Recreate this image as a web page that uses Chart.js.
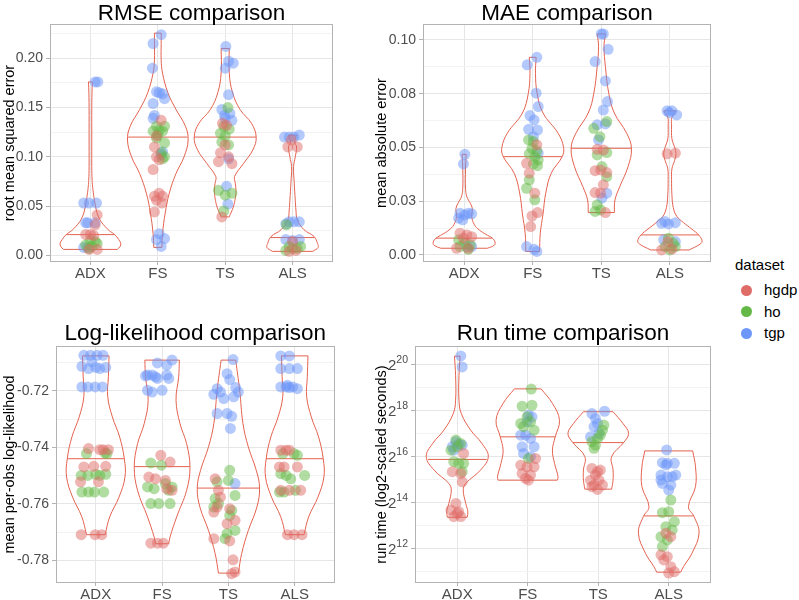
<!DOCTYPE html>
<html>
<head>
<meta charset="utf-8">
<script src="https://cdn.jsdelivr.net/npm/chart.js@4.4.0/dist/chart.umd.min.js"></script>
<style>
  body { margin: 0; background: #fff; font-family: 'Liberation Sans', Arial, sans-serif; }
  #wrap { position: relative; width: 799px; height: 600px; overflow: hidden; }
  #wrap canvas { position: absolute; }
  #legend { position: absolute; left: 0; top: 0; }
  .ltitle, .litem { position: absolute; font-size: 15px; line-height: 18px; color: #000; white-space: nowrap; }
  .dot { position: absolute; width: 11px; height: 11px; border-radius: 50%; }
</style>
</head>
<body>
<div id="wrap">
  <canvas id="rmse" width="340" height="300" style="left:0;top:0"></canvas>
  <canvas id="mae" width="380" height="300" style="left:340px;top:0"></canvas>
  <canvas id="ll" width="340" height="300" style="left:0;top:300px"></canvas>
  <canvas id="rt" width="380" height="300" style="left:340px;top:300px"></canvas>
  <div id="legend"></div>
</div>
<script>
const categories = ['ADX', 'FS', 'TS', 'ALS'];
const datasetNames = ['hgdp', 'ho', 'tgp'];
const datasetColors = ['rgb(224,108,104)', 'rgb(100,185,70)', 'rgb(108,150,250)'];
const pointColors = ['rgba(224,108,104,0.5)', 'rgba(100,185,70,0.5)', 'rgba(108,150,250,0.5)'];
const violinColor = '#E4624F';

// points: [category index, jitter, value]
// ---- RMSE ----
const rmseHgdp = [
  [0,0.10,0.041],[0,0.07,0.031],[0,0.00,0.021],[0,-0.07,0.021],[0,0.05,0.020],[0,-0.02,0.006],[0,0.10,0.006],
  [1,0.05,0.137],[1,-0.02,0.121],[1,-0.05,0.110],[1,-0.02,0.100],[1,0.02,0.097],[1,-0.07,0.087],[1,0.02,0.063],[1,-0.05,0.060],[1,0.07,0.060],[1,-0.02,0.056],[1,0.06,0.053],[1,-0.05,0.044],
  [2,-0.04,0.134],[2,0.02,0.132],[2,0.00,0.112],[2,-0.07,0.104],[2,0.05,0.100],[2,-0.10,0.095],[2,0.10,0.093],[2,-0.05,0.039],
  [3,-0.02,0.117],[3,-0.07,0.110],[3,0.07,0.110],[3,0.00,0.014],[3,-0.05,0.004],[3,0.05,0.005]
];
const rmseHo = [
  [0,0.00,0.015],[0,0.07,0.014],[0,-0.07,0.0105],[0,0.02,0.009],[0,-0.02,0.007],[0,0.10,0.012],
  [1,-0.02,0.131],[1,0.10,0.131],[1,0.02,0.127],[1,-0.07,0.126],[1,0.07,0.126],[1,0.00,0.122],[1,-0.02,0.119],[1,0.10,0.114],[1,0.05,0.104],[1,0.10,0.100],[1,0.07,0.098],
  [2,0.04,0.150],[2,-0.02,0.131],[2,0.06,0.128],[2,-0.07,0.124],[2,0.00,0.121],[2,-0.05,0.115],[2,0.05,0.112],[2,-0.10,0.066],[2,0.10,0.063],[2,0.00,0.061],[2,-0.02,0.045],
  [3,-0.09,0.031],[3,-0.05,0.009],[3,0.00,0.007],[3,0.07,0.007],[3,-0.10,0.005],[3,0.12,0.009]
];
const rmseTgp = [
  [0,0.07,0.176],[0,0.11,0.176],[0,-0.10,0.053],[0,-0.02,0.053],[0,0.09,0.053],[0,-0.07,0.033],[0,-0.04,0.033],[0,0.07,0.033],[0,-0.10,0.008],[0,-0.04,0.008],
  [1,-0.07,0.215],[1,0.05,0.224],[1,-0.08,0.190],[1,-0.02,0.166],[1,0.02,0.165],[1,0.07,0.164],[1,0.10,0.159],[1,-0.07,0.154],[1,-0.05,0.142],[1,-0.07,0.139],[1,0.07,0.105],[1,0.05,0.102],[1,0.02,0.022],[1,-0.02,0.016],[1,0.10,0.017],[1,0.05,0.009],
  [2,0.01,0.212],[2,0.05,0.197],[2,0.12,0.195],[2,0.00,0.190],[2,0.05,0.163],[2,-0.05,0.148],[2,-0.01,0.142],[2,0.07,0.144],[2,0.00,0.139],[2,0.10,0.137],[2,0.05,0.098],[2,0.02,0.070],[2,0.04,0.052],
  [3,-0.12,0.120],[3,-0.05,0.120],[3,0.02,0.120],[3,0.10,0.122],[3,-0.05,0.034],[3,0.02,0.034],[3,0.10,0.034],[3,-0.10,0.032],[3,-0.10,0.016],[3,0.00,0.015],[3,0.10,0.016]
];
// violin outlines: [value, half width in category units], bottom to top
const rmseViolins = [
  [[0.006,0.40],[0.009,0.44],[0.012,0.45],[0.016,0.42],[0.021,0.36],[0.025,0.28],[0.029,0.22],[0.034,0.16],[0.039,0.12],[0.045,0.09],[0.052,0.07],[0.060,0.05],[0.068,0.035],[0.076,0.025],[0.090,0.02],[0.120,0.02],[0.150,0.02],[0.170,0.025],[0.176,0.03]],
  [[0.008,0.06],[0.022,0.07],[0.043,0.11],[0.063,0.17],[0.083,0.27],[0.100,0.39],[0.117,0.45],[0.131,0.41],[0.148,0.27],[0.165,0.15],[0.185,0.07],[0.198,0.05],[0.215,0.05],[0.2255,0.05]],
  [[0.039,0.06],[0.049,0.12],[0.058,0.15],[0.066,0.16],[0.073,0.15],[0.080,0.14],[0.093,0.27],[0.107,0.41],[0.120,0.46],[0.134,0.39],[0.148,0.22],[0.165,0.11],[0.185,0.06],[0.210,0.06]],
  [[0.004,0.30],[0.008,0.38],[0.012,0.37],[0.019,0.32],[0.026,0.17],[0.036,0.07],[0.046,0.05],[0.056,0.04],[0.073,0.025],[0.090,0.015],[0.100,0.04],[0.110,0.06],[0.115,0.03],[0.122,0.06]]
];
const rmseMedians = [0.021, 0.120, 0.120, 0.018];
const rmseTicks = [0, 0.05, 0.10, 0.15, 0.20];
const rmseTickLabels = ['0.00', '0.05', '0.10', '0.15', '0.20'];

// ---- MAE ----
const maeHgdp = [
  [0,-0.06,0.0101],[0,0.04,0.0093],[0,0.11,0.0085],[0,-0.01,0.0078],[0,-0.11,0.0031],[0,0.06,0.0031],
  [1,0.06,0.0512],[1,-0.09,0.0426],[1,-0.05,0.0380],[1,0.03,0.0287],[1,0.07,0.0197],[1,-0.01,0.0181],[1,-0.03,0.0132],
  [2,-0.06,0.0491],[2,0.03,0.0488],[2,-0.01,0.0395],[2,-0.09,0.0392],[2,0.08,0.0383],[2,0.03,0.0326],[2,-0.09,0.0290],[2,-0.01,0.0287],[2,0.06,0.0197],
  [3,-0.04,0.0470],[3,0.08,0.0473],[3,-0.12,0.0023],[3,0.03,0.0027],[3,-0.03,0.0062]
];
const maeHo = [
  [0,-0.08,0.0070],[0,0.01,0.0057],[0,0.09,0.0047],[0,-0.06,0.0039],[0,0.06,0.0026],
  [1,-0.06,0.0535],[1,0.01,0.0527],[1,-0.01,0.0496],[1,0.06,0.0485],[1,-0.05,0.0470],[1,0.03,0.0457],[1,0.08,0.0442],[1,0.01,0.0423],[1,0.07,0.0415],[1,-0.05,0.0349],[1,-0.09,0.0310],[1,0.03,0.0256],
  [2,0.08,0.0620],[2,-0.11,0.0589],[2,-0.02,0.0550],[2,0.08,0.0476],[2,-0.06,0.0465],[2,0.01,0.0411],[2,0.08,0.0364],[2,-0.06,0.0233],[2,-0.09,0.0202],[2,-0.01,0.0209],
  [3,-0.02,0.0078],[3,0.05,0.0054],[3,0.08,0.0039],[3,-0.07,0.0039],[3,0.00,0.0023]
];
const maeTgp = [
  [0,0.01,0.0468],[0,-0.01,0.0423],[0,-0.06,0.0194],[0,0.06,0.0194],[0,0.11,0.0191],[0,0.01,0.0186],[0,-0.08,0.0171],[0,-0.02,0.0163],[0,0.04,0.0039],[0,0.11,0.0039],
  [1,0.06,0.0919],[1,-0.08,0.0884],[1,0.05,0.0752],[1,0.08,0.0690],[1,-0.04,0.0648],[1,0.02,0.0628],[1,-0.06,0.0584],[1,0.07,0.0581],[1,0.01,0.0550],[1,0.08,0.0473],[1,-0.09,0.0039],[1,0.02,0.0026],[1,0.06,0.0016],
  [2,0.00,0.1028],[2,0.03,0.1028],[2,0.10,0.0956],[2,-0.09,0.0899],[2,0.06,0.0809],[2,0.09,0.0713],[2,0.03,0.0674],[2,-0.06,0.0605],[2,0.06,0.0609],[2,-0.04,0.0535],[2,0.08,0.0287],[2,0.01,0.0264],
  [3,-0.04,0.0670],[3,0.03,0.0670],[3,0.10,0.0651],[3,-0.01,0.0662],[3,-0.12,0.0147],[3,-0.02,0.0144],[3,0.08,0.0150],[3,-0.07,0.0155],[3,-0.09,0.0070],[3,0.08,0.0062]
];
const maeViolins = [
  [[0.0031,0.34],[0.0045,0.44],[0.006,0.45],[0.0078,0.41],[0.0095,0.32],[0.0116,0.22],[0.014,0.15],[0.018,0.11],[0.0215,0.12],[0.024,0.09],[0.027,0.04],[0.031,0.02],[0.040,0.02],[0.0468,0.03]],
  [[0.0016,0.10],[0.010,0.11],[0.019,0.15],[0.0287,0.19],[0.038,0.27],[0.0457,0.43],[0.050,0.45],[0.0566,0.37],[0.066,0.15],[0.075,0.065],[0.0845,0.04],[0.0919,0.05]],
  [[0.0197,0.19],[0.0256,0.20],[0.0318,0.27],[0.041,0.39],[0.0496,0.44],[0.0566,0.37],[0.066,0.19],[0.075,0.11],[0.0876,0.06],[0.097,0.04],[0.1028,0.06]],
  [[0.0023,0.28],[0.005,0.44],[0.0065,0.47],[0.0093,0.42],[0.012,0.32],[0.015,0.20],[0.018,0.10],[0.022,0.05],[0.028,0.03],[0.035,0.025],[0.040,0.03],[0.044,0.07],[0.047,0.09],[0.050,0.07],[0.054,0.03],[0.060,0.025],[0.064,0.03],[0.067,0.09]]
];
const maeMedians = [0.0078, 0.0457, 0.0496, 0.0093];
const maeTicks = [0, 0.025, 0.05, 0.075, 0.10];
const maeTickLabels = ['0.00', '0.03', '0.05', '0.08', '0.10'];

// ---- Log-likelihood ----
const llHgdp = [
  [0,-0.11,-0.7404],[0,0.06,-0.7408],[0,0.11,-0.7408],[0,0.19,-0.7408],[0,-0.18,-0.7469],[0,-0.03,-0.7467],[0,0.15,-0.7467],[0,-0.23,-0.7522],[0,0.04,-0.7522],[0,-0.22,-0.7709],[0,-0.01,-0.7709],[0,0.09,-0.7709],
  [1,-0.02,-0.7428],[1,0.12,-0.7452],[1,-0.20,-0.7505],[1,-0.10,-0.7511],[1,0.05,-0.7517],[1,0.15,-0.7552],[1,0.07,-0.7546],[1,-0.17,-0.7739],[1,-0.07,-0.7739],[1,0.02,-0.7739],
  [2,-0.20,-0.7511],[2,-0.15,-0.7552],[2,-0.12,-0.7576],[2,-0.17,-0.7611],[2,-0.22,-0.7629],[2,0.02,-0.7617],[2,-0.02,-0.7670],[2,0.10,-0.7658],[2,-0.22,-0.7723],[2,0.02,-0.7731],[2,0.07,-0.7798],[2,0.10,-0.7841],[2,0.05,-0.7847],
  [3,-0.21,-0.7410],[3,-0.13,-0.7410],[3,-0.08,-0.7410],[3,-0.23,-0.7469],[3,-0.16,-0.7469],[3,0.04,-0.7469],[3,-0.21,-0.7552],[3,-0.08,-0.7552],[3,0.09,-0.7552],[3,-0.11,-0.7709],[3,-0.01,-0.7709],[3,0.11,-0.7709]
];
const llHo = [
  [0,-0.14,-0.7422],[0,0.14,-0.7420],[0,0.17,-0.7422],[0,-0.22,-0.7499],[0,-0.12,-0.7499],[0,0.00,-0.7495],[0,0.06,-0.7499],[0,0.15,-0.7495],[0,-0.21,-0.7558],[0,-0.11,-0.7558],[0,-0.02,-0.7558],[0,0.12,-0.7558],
  [1,-0.17,-0.7455],[1,-0.01,-0.7463],[1,-0.22,-0.7540],[1,-0.12,-0.7546],[1,0.05,-0.7528],[1,0.15,-0.7540],[1,-0.17,-0.7599],[1,-0.05,-0.7599],[1,0.12,-0.7599],[1,0.10,-0.7552],
  [2,0.02,-0.7481],[2,-0.17,-0.7522],[2,0.00,-0.7517],[2,-0.20,-0.7581],[2,-0.15,-0.7599],[2,-0.22,-0.7611],[2,0.10,-0.7570],[2,0.05,-0.7623],[2,0.02,-0.7641],[2,-0.02,-0.7705],[2,-0.05,-0.7723],[2,0.10,-0.7694],
  [3,-0.18,-0.7422],[3,-0.01,-0.7422],[3,0.04,-0.7428],[3,-0.21,-0.7493],[3,-0.13,-0.7499],[3,0.15,-0.7499],[3,-0.23,-0.7558],[3,-0.16,-0.7558],[3,0.01,-0.7552],[3,-0.06,-0.7511]
];
const llTgp = [
  [0,-0.18,-0.7074],[0,-0.08,-0.7074],[0,0.02,-0.7074],[0,0.11,-0.7074],[0,-0.21,-0.7113],[0,-0.11,-0.7121],[0,0.00,-0.7117],[0,0.06,-0.7121],[0,0.15,-0.7117],[0,-0.06,-0.7097],[0,-0.21,-0.7186],[0,-0.12,-0.7186],[0,-0.01,-0.7186],[0,0.10,-0.7186],
  [1,-0.07,-0.7101],[1,0.15,-0.7091],[1,0.07,-0.7109],[1,-0.22,-0.7144],[1,-0.15,-0.7144],[1,0.07,-0.7144],[1,0.10,-0.7156],[1,-0.10,-0.7150],[1,-0.25,-0.7147],[1,-0.22,-0.7198],[1,-0.15,-0.7204],[1,0.00,-0.7198],[1,-0.07,-0.7156],
  [2,0.07,-0.7089],[2,-0.02,-0.7139],[2,0.02,-0.7160],[2,-0.17,-0.7192],[2,-0.12,-0.7204],[2,-0.22,-0.7212],[2,-0.07,-0.7227],[2,0.08,-0.7221],[2,0.11,-0.7188],[2,0.15,-0.7204],[2,-0.17,-0.7280],[2,-0.02,-0.7280],[2,0.05,-0.7290],[2,0.03,-0.7333],[2,0.10,-0.7528],
  [3,-0.21,-0.7076],[3,-0.08,-0.7076],[3,-0.21,-0.7121],[3,-0.08,-0.7121],[3,0.04,-0.7121],[3,-0.21,-0.7186],[3,-0.13,-0.7186],[3,-0.08,-0.7188],[3,-0.03,-0.7186],[3,0.04,-0.7192],[3,-0.11,-0.7180]
];
const llViolins = [
  [[-0.7709,0.14],[-0.7646,0.21],[-0.7576,0.35],[-0.7505,0.44],[-0.744,0.43],[-0.7363,0.36],[-0.7292,0.25],[-0.722,0.18],[-0.715,0.19],[-0.7076,0.20]],
  [[-0.7741,0.10],[-0.7717,0.12],[-0.7646,0.22],[-0.7552,0.37],[-0.747,0.42],[-0.7387,0.37],[-0.7316,0.27],[-0.7233,0.21],[-0.715,0.25],[-0.7091,0.26]],
  [[-0.7845,0.15],[-0.7776,0.20],[-0.7694,0.30],[-0.7611,0.43],[-0.7544,0.47],[-0.7481,0.42],[-0.7398,0.30],[-0.7316,0.22],[-0.7198,0.17],[-0.7091,0.11]],
  [[-0.7709,0.14],[-0.7646,0.21],[-0.7576,0.35],[-0.7505,0.44],[-0.744,0.43],[-0.7363,0.36],[-0.7292,0.25],[-0.722,0.18],[-0.715,0.19],[-0.7076,0.20]]
];
const llMedians = [-0.744, -0.7468, -0.7544, -0.744];
const llTicks = [-0.78, -0.76, -0.74, -0.72];
const llTickLabels = ['-0.78', '-0.76', '-0.74', '-0.72'];

// ---- Run time (log2 seconds) ----
const rtHgdp = [
  [0,0.09,16.13],[0,-0.07,15.34],[0,0.05,15.26],[0,0.07,14.90],[0,-0.02,13.96],[0,-0.09,13.68],[0,0.02,13.60],[0,-0.05,13.39],[0,0.05,13.39],[0,0.00,13.53],
  [1,-0.10,15.62],[1,-0.01,15.55],[1,0.09,15.55],[1,-0.08,15.26],[1,0.04,15.19],[1,-0.03,15.05],[1,0.01,14.97],[1,0.11,15.91],
  [2,-0.09,15.48],[2,-0.01,15.34],[2,0.03,15.41],[2,-0.04,15.19],[2,-0.11,14.97],[2,0.01,14.97],[2,-0.06,14.76],[2,0.06,14.76],[2,-0.01,14.57],[2,-0.09,14.69],
  [3,-0.04,12.67],[3,0.03,12.52],[3,-0.11,11.73],[3,-0.02,11.65],[3,-0.07,11.51],[3,0.03,11.22],[3,0.08,11.00],[3,0.00,10.94]
];
const rtHo = [
  [0,-0.02,16.71],[0,0.05,16.56],[0,-0.09,16.27],[0,0.00,16.42],[0,-0.05,15.77],[0,0.02,15.70],[0,0.09,15.70],[0,0.07,15.34],
  [1,0.05,18.92],[1,-0.08,18.18],[1,0.06,18.22],[1,-0.01,17.72],[1,-0.10,17.43],[1,-0.06,17.29],[1,0.04,17.50],[1,0.09,17.14],[1,0.01,15.91],
  [2,0.08,17.36],[2,0.06,17.14],[2,0.03,16.92],[2,-0.01,16.78],[2,-0.09,16.64],[2,-0.04,16.49],[2,-0.06,16.35],
  [3,0.03,14.11],[3,-0.09,13.56],[3,0.00,13.60],[3,0.08,13.17],[3,-0.04,12.95],[3,0.05,12.81],[3,-0.11,12.52],[3,-0.02,12.38],[3,-0.09,12.09]
];
const rtTgp = [
  [0,0.05,20.36],[0,0.07,19.88],[0,-0.05,16.27],[0,0.02,16.53],[0,0.07,16.49],[0,-0.02,16.64],[0,-0.07,16.42],
  [1,0.01,17.79],[1,0.06,17.72],[1,-0.01,17.50],[1,-0.03,16.92],[1,-0.10,16.92],[1,0.04,16.78],[1,-0.08,16.42],[1,0.09,16.42],[1,-0.06,16.13],[1,0.04,15.99],
  [2,-0.09,17.86],[2,0.09,17.96],[2,-0.04,17.65],[2,-0.01,17.43],[2,-0.06,17.29],[2,0.01,17.00],[2,-0.11,16.85],
  [3,-0.03,16.28],[3,-0.09,15.73],[3,-0.02,15.70],[3,0.08,15.70],[3,-0.04,15.63],[3,-0.11,15.19],[3,-0.02,15.12],[3,0.05,15.12],[3,0.10,15.19],[3,-0.09,14.83],[3,0.03,14.76],[3,-0.11,14.98],[3,0.00,14.54]
];
const rtViolins = [
  [[13.36,0.14],[13.60,0.15],[13.96,0.12],[14.54,0.085],[14.83,0.12],[15.41,0.33],[15.99,0.44],[16.56,0.35],[17.14,0.19],[17.86,0.057],[18.44,0.024],[19.5,0.024],[20.35,0.04]],
  [[14.97,0.42],[15.12,0.43],[15.70,0.38],[16.27,0.35],[16.85,0.39],[17.57,0.45],[18.30,0.35],[18.93,0.19]],
  [[14.58,0.19],[14.97,0.21],[15.41,0.21],[15.99,0.19],[16.60,0.36],[17.00,0.43],[17.43,0.35],[17.94,0.21]],
  [[10.98,0.17],[11.22,0.21],[11.80,0.33],[12.67,0.43],[13.39,0.36],[13.82,0.28],[14.69,0.38],[15.55,0.38],[16.24,0.34]]
];
const rtMedians = [15.87, 16.85, 16.60, 13.42];
const rtTicks = [12, 14, 16, 18, 20];
// labels are 2 raised to the tick value
const rtTickBase = '2';
const rtTickExponents = ['12', '14', '16', '18', '20'];

const FONT = "'Liberation Sans', Arial, sans-serif";
Chart.defaults.font.family = FONT;

// panel border + title
const panelFrame = {
  id: 'panelFrame',
  afterDraw(chart, args, opts) {
    const { ctx, chartArea: a } = chart;
    ctx.save();
    ctx.strokeStyle = '#B3B3B3';
    ctx.lineWidth = 1;
    ctx.strokeRect(Math.round(a.left) + 0.5, Math.round(a.top) + 0.5,
      Math.round(a.right - a.left) - 1, Math.round(a.bottom - a.top) - 1);
    ctx.fillStyle = '#000';
    ctx.font = '22.5px ' + FONT;
    ctx.textAlign = 'center';
    ctx.textBaseline = 'alphabetic';
    ctx.fillText(opts.text, (a.left + a.right) / 2, opts.baseline);
    ctx.restore();
  }
};

// y tick labels written as a power (base with raised exponent)
const powerLabels = {
  id: 'powerLabels',
  afterDraw(chart, args, opts) {
    if (!opts.exponents) return;
    const { ctx, chartArea: a } = chart;
    const y = chart.scales.y;
    ctx.save();
    ctx.fillStyle = '#4D4D4D';
    ctx.textBaseline = 'alphabetic';
    ctx.textAlign = 'left';
    opts.ticks.forEach((t, i) => {
      const py = y.getPixelForValue(t);
      ctx.font = '10.5px ' + FONT;
      const ew = ctx.measureText(opts.exponents[i]).width;
      ctx.font = '15px ' + FONT;
      const bw = ctx.measureText(opts.base).width;
      const right = a.left - 7;
      ctx.fillText(opts.base, right - ew - bw, py + 5.5);
      ctx.font = '10.5px ' + FONT;
      ctx.fillText(opts.exponents[i], right - ew, py - 1.5);
    });
    ctx.restore();
  }
};

function halfWidthAt(prof, v) {
  for (let i = 1; i < prof.length; i++) {
    if (v <= prof[i][0]) {
      const [v0, h0] = prof[i - 1], [v1, h1] = prof[i];
      return h0 + (h1 - h0) * (v - v0) / (v1 - v0);
    }
  }
  return prof[prof.length - 1][1];
}

function near(a, b) { return Math.abs(a - b) < 1e-9; }

function buildPanel(id, spec) {
  const datasets = [];
  spec.points.forEach((arr, k) => {
    datasets.push({
      type: 'scatter',
      label: datasetNames[k],
      data: arr.map(([g, dx, v]) => ({ x: g + 1 + dx, y: v })),
      backgroundColor: pointColors[k],
      borderWidth: 0,
      pointRadius: 5.5,
      order: 0
    });
  });
  spec.violins.forEach((prof, g) => {
    const c = g + 1;
    const base = { type: 'line', borderColor: violinColor, borderWidth: 1, pointRadius: 0, fill: false, order: 1 };
    const lo = prof[0], hi = prof[prof.length - 1];
    const m = spec.medians[g], hm = halfWidthAt(prof, m);
    datasets.push({ ...base, tension: 0.4, data: prof.map(([v, h]) => ({ x: c + h, y: v })) });
    datasets.push({ ...base, tension: 0.4, data: prof.map(([v, h]) => ({ x: c - h, y: v })) });
    datasets.push({ ...base, tension: 0, data: [{ x: c - lo[1], y: lo[0] }, { x: c + lo[1], y: lo[0] }] });
    datasets.push({ ...base, tension: 0, data: [{ x: c - hi[1], y: hi[0] }, { x: c + hi[1], y: hi[0] }] });
    datasets.push({ ...base, tension: 0, data: [{ x: c - hm, y: m }, { x: c + hm, y: m }] });
  });

  // major ticks plus minor ticks halfway between
  const step = spec.ticks[1] - spec.ticks[0];
  const yTicks = [];
  for (let v = spec.ticks[0] - step / 2; v <= spec.max; v += step / 2) {
    if (v >= spec.min) yTicks.push(v);
  }
  const majorIndex = v => spec.ticks.findIndex(t => near(t, v));

  new Chart(document.getElementById(id), {
    type: 'scatter',
    data: { datasets },
    options: {
      responsive: false,
      animation: false,
      events: [],
      layout: { padding: { left: 0, right: spec.padRight, top: spec.padTop, bottom: spec.padBottom } },
      plugins: {
        legend: { display: false },
        tooltip: { enabled: false },
        panelFrame: { text: spec.title, baseline: spec.titleBaseline },
        powerLabels: { ticks: spec.ticks, base: spec.powerBase, exponents: spec.exponents }
      },
      scales: {
        x: {
          type: 'linear', min: 0.4, max: 4.6,
          afterBuildTicks: s => { s.ticks = categories.map((c, i) => ({ value: i + 1 })); },
          afterFit: s => { s.height = spec.xHeight; },
          ticks: {
            callback: v => categories[Math.round(v) - 1],
            font: { size: 15 }, color: '#4D4D4D', padding: 0, autoSkip: false, maxRotation: 0
          },
          grid: { color: '#E6E6E6', tickColor: '#B3B3B3', tickLength: 3 },
          border: { display: false }
        },
        y: {
          type: 'linear', min: spec.min, max: spec.max,
          afterBuildTicks: s => { s.ticks = yTicks.map(v => ({ value: v })); },
          afterFit: s => { s.width = spec.yWidth; },
          ticks: {
            callback: v => {
              const i = majorIndex(v);
              return (i >= 0 && spec.tickLabels) ? spec.tickLabels[i] : '';
            },
            font: { size: 14 }, color: '#4D4D4D', padding: 3, autoSkip: false
          },
          grid: {
            color: c => majorIndex(c.tick.value) >= 0 ? '#E6E6E6' : '#F3F3F3',
            tickColor: c => majorIndex(c.tick.value) >= 0 ? '#B3B3B3' : 'rgba(0,0,0,0)',
            tickLength: 4
          },
          border: { display: false },
          title: {
            display: true, text: spec.yTitle, color: '#000',
            font: { size: 14.5 }, padding: { top: spec.titlePad, bottom: 0 }
          }
        }
      }
    },
    plugins: [panelFrame, powerLabels]
  });
}

buildPanel('rmse', {
  title: 'RMSE comparison', titleBaseline: 19.5, yTitle: 'root mean squared error',
  points: [rmseHgdp, rmseHo, rmseTgp], violins: rmseViolins, medians: rmseMedians,
  ticks: rmseTicks, tickLabels: rmseTickLabels, min: -0.0068, max: 0.2348,
  yWidth: 50, xHeight: 30, padTop: 24, padRight: 7, padBottom: 8, titlePad: 1.3
});
buildPanel('mae', {
  title: 'MAE comparison', titleBaseline: 19.5, yTitle: 'mean absolute error',
  points: [maeHgdp, maeHo, maeTgp], violins: maeViolins, medians: maeMedians,
  ticks: maeTicks, tickLabels: maeTickLabels, min: -0.0033, max: 0.1074,
  yWidth: 83, xHeight: 30, padTop: 24, padRight: 9, padBottom: 8, titlePad: 33
});
buildPanel('ll', {
  title: 'Log-likelihood comparison', titleBaseline: 39.5, yTitle: 'mean per-obs log-likelihood',
  points: [llHgdp, llHo, llTgp], violins: llViolins, medians: llMedians,
  ticks: llTicks, tickLabels: llTickLabels, min: -0.7880, max: -0.7041,
  yWidth: 56, xHeight: 17, padTop: 46, padRight: 5, padBottom: 0, titlePad: 1.3
});
buildPanel('rt', {
  title: 'Run time comparison', titleBaseline: 39.5, yTitle: 'run time (log2-scaled seconds)',
  points: [rtHgdp, rtHo, rtTgp], violins: rtViolins, medians: rtMedians,
  ticks: rtTicks, tickLabels: null, powerBase: rtTickBase, exponents: rtTickExponents,
  min: 10.51, max: 20.79,
  yWidth: 75, xHeight: 17, padTop: 46, padRight: 9, padBottom: 0, titlePad: 33
});

// legend
const legend = document.getElementById('legend');
const lt = document.createElement('div');
lt.className = 'ltitle';
lt.textContent = 'dataset';
lt.style.left = '735px';
lt.style.top = '256px';
legend.appendChild(lt);
datasetNames.forEach((name, i) => {
  const cy = 290 + i * 21.5;
  const dot = document.createElement('span');
  dot.className = 'dot';
  dot.style.background = datasetColors[i];
  dot.style.left = '740.5px';
  dot.style.top = (cy - 5.5) + 'px';
  legend.appendChild(dot);
  const lab = document.createElement('div');
  lab.className = 'litem';
  lab.textContent = name;
  lab.style.left = '764px';
  lab.style.top = (cy - 9) + 'px';
  legend.appendChild(lab);
});
</script>
</body>
</html>
